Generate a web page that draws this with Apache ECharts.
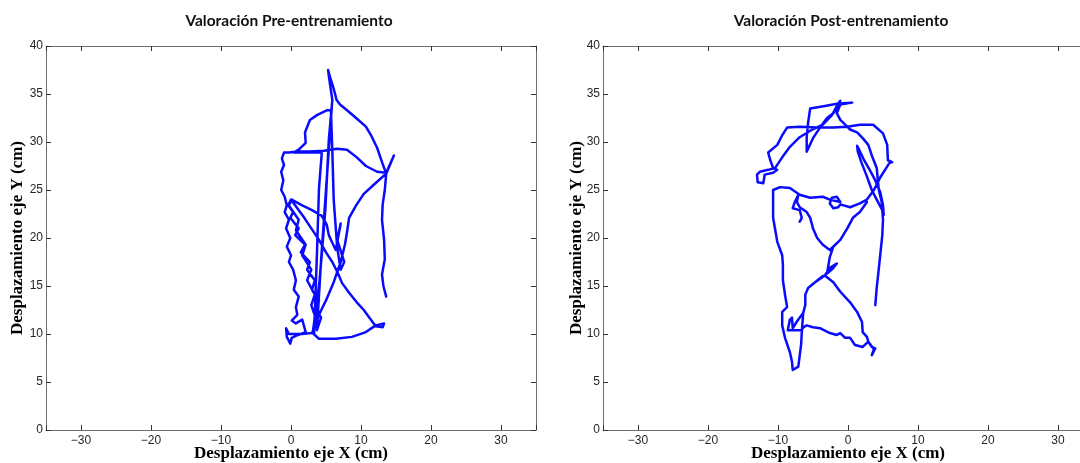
<!DOCTYPE html>
<html>
<head>
<meta charset="utf-8">
<script src="https://cdn.jsdelivr.net/npm/echarts@6/dist/echarts.min.js"></script>
<style>html,body{margin:0;padding:0;background:#fff}#c{width:1080px;height:463px}</style>
</head>
<body>
<div id="c"></div>
<script>
var titles = ['Valoración Pre-entrenamiento', 'Valoración Post-entrenamiento'];
var xName = 'Desplazamiento eje X (cm)';
var yName = 'Desplazamiento eje Y (cm)';
var xRange = [-35, 35];
var yRange = [0, 40];
var yStep = 5;

// Pre-training trajectory (x cm, y cm)
var prePath = [
[13.6,13.9],[13.2,15.0],[13.0,16.2],[13.4,17.8],[13.3,19.8],[13.0,21.9],[13.1,23.5],[13.4,25.0],[13.6,26.7],
[13.0,27.9],[12.3,29.4],[11.5,30.6],[10.7,31.6],[9.3,32.5],[8.0,33.3],[7.0,33.9],[6.5,34.4],[6.3,35.0],[6.0,35.8],[5.6,36.7],[5.3,37.5],[5.4,36.9],
[5.9,34.4],[5.5,30.2],[5.0,25.0],[4.4,18.5],[3.7,12.0],[3.1,10.1],
[4.0,9.5],[6.4,9.5],[8.7,9.7],[10.7,10.2],[12.1,10.9],[13.3,11.1],[13.1,10.7],[12.1,10.8],
[11.1,11.8],[10.4,12.5],[9.4,13.3],[8.3,14.3],[7.3,15.3],[6.6,16.5],[5.9,17.5],[5.0,18.5],[4.0,19.8],[2.9,21.0],[1.9,22.1],[0.9,23.1],[0.0,24.0],
[-0.4,23.4],[0.3,22.7],[-0.1,22.1],[1.1,21.0],[0.6,20.3],[2.0,19.3],[1.4,18.5],[2.7,17.5],[2.3,16.7],[3.4,15.6],[3.0,14.6],[4.0,13.5],[3.6,12.5],[4.3,11.7],[3.7,10.4],
[4.3,17.7],[5.0,25.0],[5.6,31.3],[5.9,34.4],[5.4,30.2],[4.9,22.9],[4.1,15.6],[3.1,10.1],
[4.0,12.0],[5.0,13.5],[6.1,15.4],[7.1,17.5],[7.7,19.3],[8.0,20.6],[8.3,22.1],[9.3,23.4],[10.4,24.6],[11.9,25.6],[13.6,26.7],[14.7,28.6],[14.1,27.6],[13.6,26.8],
[12.3,26.9],[10.7,27.5],[9.4,28.4],[8.0,29.2],[6.6,29.3],[4.7,29.1],[2.6,29.0],[0.9,29.0],[-0.3,28.9],[-1.0,28.9],
[-1.3,28.3],[-1.0,27.6],[-1.4,26.9],[-1.1,26.0],[-1.4,25.0],[-0.9,24.3],[-0.6,23.4],[-0.9,22.7],[-0.3,21.9],[-0.7,21.0],[-0.1,20.0],[-0.6,19.1],[0.0,18.2],[-0.3,17.5],[0.3,16.7],[0.7,15.6],[0.4,14.6],[1.1,13.9],[0.7,12.8],[0.9,12.0],[0.1,11.4],[0.7,11.1],[1.6,11.5],[2.1,10.2],
[1.0,9.9],[0.1,9.6],[-0.1,9.0],[-0.6,9.7],[-0.7,10.6],[-0.3,10.0],[0.5,10.0],[1.5,10.0],[3.0,10.1],
[3.7,11.3],[2.9,13.0],[3.4,14.1],[2.3,15.6],[2.9,16.7],[1.6,18.2],[2.1,19.3],[0.7,20.8],[1.1,21.9],[-0.3,23.4],[0.1,24.0],
[1.6,23.4],[3.0,22.9],[4.4,22.3],[5.1,21.4],[5.4,20.3],[5.9,19.5],[6.4,18.75],[7.1,21.5],[6.6,19.8],[7.6,17.5],[7.1,16.7],
[6.6,19.0],[6.1,24.0],[5.9,29.2],[5.7,33.3],
[5.1,33.3],[3.7,32.8],[2.7,32.3],[2.0,31.0],[2.1,29.9],[1.1,29.2],[0.4,28.9],
[4.4,28.9],[4.0,25.2],[3.7,18.2],[3.4,12.0],[3.3,10.0]
];

// Post-training trajectory (x cm, y cm)
var postPath = [
[3.9,13.0],[4.1,14.8],[4.3,16.1],[4.6,18.2],[4.9,20.3],[5.0,21.9],[4.9,22.9],[4.1,24.0],[3.4,25.0],[2.6,26.6],[1.9,27.9],[1.4,29.0],[1.3,29.6],
[1.6,29.2],[2.3,28.1],[3.1,27.1],[3.9,26.0],[4.6,24.8],[5.0,23.4],[5.1,22.4],
[4.8,23.8],[4.4,25.0],[4.3,25.8],[4.1,27.3],[3.4,28.6],[2.9,29.7],[2.1,30.4],[1.3,31.0],[0.3,31.3],[-0.1,31.6],
[-2.1,31.5],[-4.4,31.5],[-6.9,31.6],[-8.7,31.5],[-9.4,30.7],[-10.1,29.7],[-11.4,28.9],[-11.1,28.1],[-10.7,27.3],[-10.1,27.1],
[-10.7,26.8],[-11.9,26.6],[-12.1,25.7],[-12.9,25.8],[-13.0,26.6],[-12.6,26.9],[-11.4,27.1],[-10.4,27.3],
[-9.4,28.4],[-8.3,29.5],[-6.9,30.5],[-5.1,31.3],[-3.6,31.8],[-2.3,32.8],[-1.4,34.0],[-1.1,34.3],
[-1.6,33.5],[-2.1,33.0],[-3.0,32.5],[-4.0,31.5],[-5.0,30.4],[-5.9,29.0],[-5.9,30.5],[-5.7,32.0],[-5.4,33.5],[-3.3,33.75],[-1.4,34.0],[0.6,34.1],[-1.1,33.9],[-1.6,33.0],[-1.1,32.3],[-0.1,31.6],
[1.7,31.8],[3.6,31.8],[5.0,30.9],[5.6,29.7],[5.7,28.1],[6.3,27.9],[5.9,27.8],
[4.6,26.3],[3.7,25.0],[3.1,24.4],[2.7,24.0],[1.7,23.6],[0.3,23.2],[-1.1,23.5],[-1.4,23.2],[-2.1,23.1],[-2.6,23.6],[-2.3,24.2],[-1.6,24.3],[-1.1,23.75],[-2.6,24.0],
[-3.6,24.3],[-5.4,24.2],[-6.9,24.5],[-8.3,25.2],[-9.7,25.3],[-10.7,25.0],
[-10.7,22.1],[-10.1,19.6],[-9.4,18.2],[-9.3,17.2],[-9.3,15.6],[-9.0,14.1],[-8.7,12.8],[-9.4,12.3],[-9.4,10.9],[-9.0,9.6],[-8.3,8.1],[-8.0,7.1],[-7.9,6.25],[-7.1,6.6],[-6.9,6.8],[-6.7,8.9],[-6.6,10.2],
[-6.4,12.2],[-6.1,13.0],[-6.1,14.1],[-5.7,14.8],[-4.7,15.4],[-3.7,16.0],[-3.3,16.1],
[-2.1,15.4],[-1.1,14.4],[0.3,13.3],[1.3,12.3],[2.0,11.25],[2.1,10.2],[2.7,9.7],[2.9,9.2],[3.4,8.65],[3.9,8.5],[3.4,7.8],[3.7,8.4],
[2.9,9.2],[2.1,8.65],[1.0,8.85],[0.3,9.6],[-0.4,9.6],[-1.1,10.1],[-1.6,9.9],[-2.6,10.1],[-4.0,10.6],[-5.0,10.7],[-5.9,10.9],[-6.4,10.7],[-6.6,10.4],[-7.5,10.4],[-8.6,10.4],[-8.3,11.5],[-8.0,11.7],[-7.9,10.6],[-7.3,11.3],
[-6.4,12.2],[-6.1,13.0],[-6.1,14.1],[-5.7,14.8],[-4.7,15.4],[-3.3,16.1],[-2.6,16.9],[-1.6,17.35],[-1.5,17.2],[-2.2,16.8],[-3.0,16.3],
[-2.6,18.0],[-2.1,19.1],[-1.1,19.8],[-0.1,21.0],[0.7,22.1],[1.7,22.7],[2.7,23.75],[1.7,22.7],[0.7,22.1],[-0.1,21.0],[-1.1,19.8],[-2.6,18.75],[-3.6,19.3],[-4.4,20.0],[-5.0,21.0],[-5.4,22.1],[-5.9,22.7],[-6.9,23.2],[-7.3,23.75],[-7.1,24.5],[-7.6,23.75],[-7.9,23.1],[-6.9,22.9],[-6.6,22.1],[-6.9,21.7]
];

var chart = echarts.init(document.getElementById('c'), null, {renderer: 'canvas'});
var AX = '#6e6e6e';
var lblFont = {color: '#262626', fontSize: 12, fontFamily: 'Liberation Sans, Arial, sans-serif'};
var nameFont = {color: '#000', fontSize: 17, fontWeight: 'bold', fontFamily: 'Liberation Serif, Times New Roman, serif'};
function xfmt(v){ if (v <= xRange[0] || v >= xRange[1]) return ''; return String(v).replace('-', '\u2212'); }

var grids = [
  {left: 46, top: 46, width: 490, height: 384, containLabel: false, outerBoundsMode: 'none'},
  {left: 603, top: 46, width: 490, height: 384, containLabel: false, outerBoundsMode: 'none'}
];
var xAxes = [], yAxes = [];
[0, 1].forEach(function(g){
  xAxes.push({gridIndex: g, type: 'value', position: 'bottom', min: xRange[0], max: xRange[1], splitNumber: 7,
    name: xName, nameLocation: 'middle', nameGap: 15, nameMoveOverlap: false, nameTextStyle: nameFont,
    axisLine: {show: true, onZero: false, lineStyle: {color: AX, width: 1}},
    axisTick: {show: true, inside: true, length: 5, lineStyle: {color: '#333'}},
    axisLabel: Object.assign({margin: 5, formatter: xfmt}, lblFont),
    splitLine: {show: false}});
  xAxes.push({gridIndex: g, type: 'value', position: 'top', min: xRange[0], max: xRange[1], splitNumber: 7,
    axisLine: {show: true, onZero: false, lineStyle: {color: AX, width: 1}},
    axisTick: {show: true, inside: true, length: 5, lineStyle: {color: '#333'}},
    axisLabel: {show: false}, splitLine: {show: false}});
  yAxes.push({gridIndex: g, type: 'value', position: 'left', min: yRange[0], max: yRange[1], interval: yStep,
    name: yName, nameLocation: 'middle', nameRotate: 90, nameGap: g === 0 ? 20 : 18, nameMoveOverlap: false, nameTextStyle: nameFont,
    axisLine: {show: true, onZero: false, lineStyle: {color: AX, width: 1}},
    axisTick: {show: true, inside: true, length: 5, lineStyle: {color: '#333'}},
    axisLabel: Object.assign({margin: 3}, lblFont),
    splitLine: {show: false}});
  yAxes.push({gridIndex: g, type: 'value', position: 'right', min: yRange[0], max: yRange[1], interval: yStep,
    axisLine: {show: true, onZero: false, lineStyle: {color: AX, width: 1}},
    axisTick: {show: true, inside: true, length: 5, lineStyle: {color: '#333'}},
    axisLabel: {show: false}, splitLine: {show: false}});
});

chart.setOption({
  backgroundColor: '#fff',
  animation: false,
  title: [
    {text: titles[0], left: 284, top: 8, textAlign: 'center', textStyle: {fontSize: 15.5, fontWeight: 'bold', color: '#111', fontFamily: 'Lato, Open Sans, sans-serif'}},
    {text: titles[1], left: 836, top: 8, textAlign: 'center', textStyle: {fontSize: 15.5, fontWeight: 'bold', color: '#111', fontFamily: 'Lato, Open Sans, sans-serif'}}
  ],
  grid: grids,
  xAxis: xAxes,
  yAxis: yAxes,
  series: [
    {type: 'line', xAxisIndex: 0, yAxisIndex: 0, data: prePath, showSymbol: false, symbol: 'none',
     lineStyle: {color: '#0a0aff', width: 2.5, join: 'round', cap: 'round'}},
    {type: 'line', xAxisIndex: 2, yAxisIndex: 2, data: postPath, showSymbol: false, symbol: 'none',
     lineStyle: {color: '#0a0aff', width: 2.5, join: 'round', cap: 'round'}}
  ]
});
</script>
</body>
</html>
